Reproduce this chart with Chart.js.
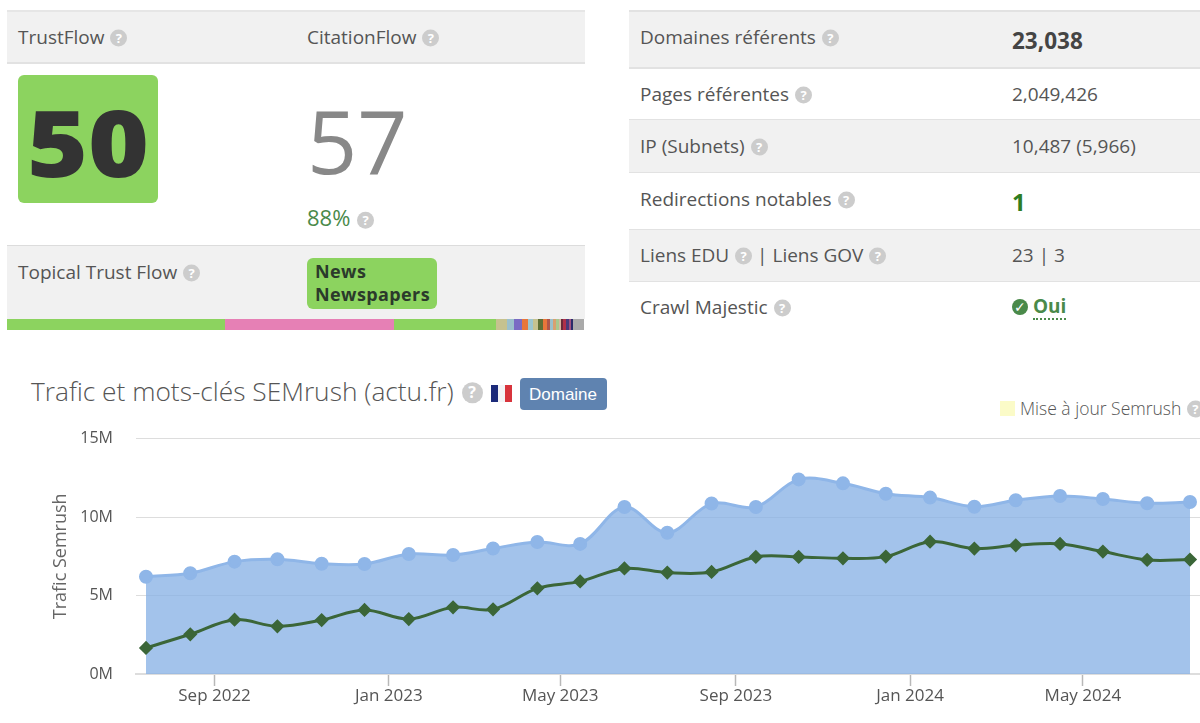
<!DOCTYPE html>
<html lang="fr">
<head>
<meta charset="utf-8">
<title>Trafic et mots-clés SEMrush</title>
<script src="https://cdn.jsdelivr.net/npm/chart.js@4"></script>
<style>
  html, body { margin: 0; padding: 0; background: #fff; }
  body { position: relative; width: 1200px; height: 723px; overflow: hidden; font-family: "Open Sans", sans-serif; color: #555; }
  .box { position: absolute; }
  .t { position: absolute; transform: translateY(-50%); white-space: nowrap; font-size: 19px; line-height: 1.2; margin-top: -0.5px; }
  .q { display: inline-block; width: 17px; height: 17px; line-height: 17px; border-radius: 50%; background: #ccc; color: #fff; font-size: 13px; font-weight: 700; text-align: center; vertical-align: 1px; margin-left: 1px; }
  #chartWrap { position: absolute; left: 0; top: 406px; width: 1200px; height: 317px; }
</style>
</head>
<body>
<div id="page"></div>
<div id="chartWrap"><canvas id="trafficChart"></canvas></div>
<script>
// chart data, one point per month
const months = ['2022-07-15', '2022-08-15', '2022-09-15', '2022-10-15', '2022-11-15', '2022-12-15', '2023-01-15', '2023-02-15', '2023-03-15', '2023-04-15', '2023-05-15', '2023-06-15', '2023-07-15', '2023-08-15', '2023-09-15', '2023-10-15', '2023-11-15', '2023-12-15', '2024-01-15', '2024-02-15', '2024-03-15', '2024-04-15', '2024-05-15', '2024-06-15', '2024-07-15'];
const traffic = [6.2, 6.42, 7.16, 7.31, 7.03, 7.01, 7.65, 7.58, 8.0, 8.41, 8.29, 10.64, 9.0, 10.86, 10.64, 12.4, 12.15, 11.49, 11.24, 10.66, 11.07, 11.34, 11.15, 10.88, 10.96];
const keywords = [1.66, 2.53, 3.46, 3.04, 3.44, 4.08, 3.5, 4.25, 4.12, 5.46, 5.9, 6.73, 6.46, 6.5, 7.46, 7.46, 7.37, 7.48, 8.43, 7.99, 8.2, 8.29, 7.8, 7.27, 7.29];
const xTickDates = ['2022-09-01', '2023-01-01', '2023-05-01', '2023-09-01', '2024-01-01', '2024-05-01'];
const xTickLabels = ['Sep 2022', 'Jan 2023', 'May 2023', 'Sep 2023', 'Jan 2024', 'May 2024'];
const yTicks = [0, 5, 10, 15];

// page furniture around the chart
const page = document.getElementById('page');
const help = '<span class="q">?</span>';

function rect(x, y, w, h, bg, radius) {
    const d = document.createElement('div');
    d.className = 'box';
    d.style.cssText = `left:${x}px;top:${y}px;width:${w}px;height:${h}px;background:${bg};border-radius:${radius || 0}px`;
    page.appendChild(d);
}

function text(x, y, html, css) {
    const d = document.createElement('div');
    d.className = 't';
    d.style.cssText = `left:${x}px;top:${y}px;${css || ''}`;
    d.innerHTML = html;
    page.appendChild(d);
}

// left panel
rect(7, 11, 578, 52, '#f1f1f1');
rect(7, 10, 578, 2, '#e6e6e6');
rect(7, 62, 578, 2, '#e2e2e2');
rect(7, 245, 578, 74, '#f1f1f1');
rect(7, 245, 578, 1, '#dcdcdc');
text(18, 37, 'TrustFlow ' + help);
text(307, 37, 'CitationFlow ' + help);
rect(18, 75, 140, 128, '#8cd35f', 6);
text(27, 142, '50', 'font-size:93px;font-weight:800;color:#333;transform:translateY(-50%) scaleX(1.12);transform-origin:left center');
text(307, 141, '57', 'font-size:88px;font-weight:400;color:#888');
text(307, 217, '88% ' + help, 'font-size:22px;color:#4a8a4a');
text(18, 272, 'Topical Trust Flow ' + help);
rect(307, 258, 130, 51, '#8cd35f', 6);
text(315, 272, 'News', 'font-size:18px;font-weight:700;letter-spacing:.4px;color:#2b3a2b');
text(315, 295, 'Newspapers', 'font-size:18px;font-weight:700;letter-spacing:.4px;color:#2b3a2b');

// topical stripe
const stripeEdges = [7, 225, 394, 496, 507, 514, 522, 528, 533, 538, 543, 547, 550, 553, 556, 559, 561, 563, 566, 569, 571, 573, 584];
const stripeColors = ['#8cd35f', '#e680b5', '#8cd35f', '#c6c28f', '#9cc0cc', '#7a6bc4', '#e8763a', '#9cc6d0', '#c6c28f', '#5f6f35', '#e8763a', '#b0554a', '#9cc0cc', '#d9a070', '#a8c890', '#d8b8a0', '#6a2a3a', '#b0304a', '#4a3a7a', '#a05080', '#2a2a6a', '#aaaaaa'];
stripeColors.forEach((c, i) => rect(stripeEdges[i], 319, stripeEdges[i + 1] - stripeEdges[i], 11, c));

// right panel
rect(629, 11, 571, 57, '#f1f1f1');
rect(629, 120, 571, 52, '#f1f1f1');
rect(629, 229, 571, 52, '#f1f1f1');
[10, 67, 119, 172, 229, 281].forEach((y, i) => rect(629, y, 571, i < 2 ? 2 : 1, '#e2e2e2'));
text(640, 37, 'Domaines référents ' + help);
text(640, 94, 'Pages référentes ' + help);
text(640, 146, 'IP (Subnets) ' + help);
text(640, 199, 'Redirections notables ' + help);
text(640, 255, 'Liens EDU ' + help + ' | Liens GOV ' + help);
text(640, 307, 'Crawl Majestic ' + help);
text(1012, 40, '23,038', 'font-size:22.5px;font-weight:700;color:#444');
text(1012, 94, '2,049,426');
text(1012, 146, '10,487 (5,966)');
text(1012, 202, '1', 'font-size:24px;font-weight:700;color:#2e7d22');
text(1012, 255, '23 | 3');
rect(1012, 299, 16, 16, '#4a8a4a', 8);
text(1014, 307, '✓', 'font-size:14px;font-weight:700;color:#fff;font-family:DejaVu Sans');
text(1033, 307, 'Oui', 'font-weight:700;color:#4a8a4a;border-bottom:2px dotted #4a8a4a;line-height:24px');

// chart heading
text(31, 392, 'Trafic et mots-clés SEMrush (actu.fr) <span class="q" style="width:21px;height:21px;line-height:21px;font-size:16px;vertical-align:3px">?</span>', 'font-size:26.3px;font-weight:300;color:#555');
rect(491, 385, 7, 17, '#1c2a7a');
rect(498, 385, 7, 17, '#f4f4f6');
rect(505, 385, 7, 17, '#d8343c');
rect(520, 378, 87, 32, '#5f83b0', 4);
text(529, 395, 'Domaine', 'font-family:Liberation Sans;font-size:17px;color:#fff');
rect(1000, 401, 15, 15, '#fbfbc8');
text(1020, 408, 'Mise à jour Semrush ' + help, 'font-size:17.5px;font-weight:300;color:#555');

// chart
const dayMs = 86400000;
const xValues = months.map(m => Date.parse(m));

function toPoints(values) {
    return values.map((v, i) => ({ x: xValues[i], y: v }));
}

new Chart(document.getElementById('trafficChart'), {
    type: 'line',
    data: {
        datasets: [
            {
                label: 'Mots-clés',
                data: toPoints(keywords),
                order: 1,
                borderColor: '#3b6638',
                backgroundColor: '#3b6638',
                borderWidth: 3,
                tension: 0.35,
                pointStyle: 'rectRot',
                pointRadius: 5,
                fill: false
            },
            {
                label: 'Trafic',
                data: toPoints(traffic),
                order: 2,
                borderColor: '#8fb6e8',
                pointBackgroundColor: '#8fb6e8',
                pointBorderColor: '#8fb6e8',
                backgroundColor: 'rgba(132, 175, 228, 0.75)',
                borderWidth: 3,
                tension: 0.35,
                pointRadius: 5.5,
                fill: 'origin'
            }
        ]
    },
    options: {
        responsive: true,
        maintainAspectRatio: false,
        animation: false,
        layout: { autoPadding: false, padding: { top: 13 } },
        plugins: { legend: { display: false }, tooltip: { enabled: false } },
        scales: {
            x: {
                type: 'linear',
                min: xValues[0] - 7 * dayMs,
                max: xValues[xValues.length - 1] + 7 * dayMs,
                afterFit: scale => { scale.height = 49; },
                afterBuildTicks: scale => {
                    scale.ticks = xTickDates.map(d => ({ value: Date.parse(d) }));
                },
                border: { display: true, color: '#ddd', width: 2 },
                grid: { drawOnChartArea: false, drawTicks: true, tickLength: 12, tickColor: '#b8b8b8', tickWidth: 1.5, color: '#ddd' },
                ticks: {
                    autoSkip: false,
                    maxRotation: 0,
                    padding: 0,
                    color: '#555',
                    font: { family: 'Open Sans', size: 17 },
                    callback: value => xTickLabels[xTickDates.findIndex(d => Date.parse(d) === value)]
                }
            },
            y: {
                min: 0,
                max: 15,
                afterFit: scale => { scale.width = 136; },
                afterBuildTicks: scale => {
                    scale.ticks = yTicks.map(v => ({ value: v }));
                },
                border: { display: false },
                grid: { color: '#ddd', drawTicks: false },
                title: {
                    display: true,
                    text: 'Trafic Semrush',
                    color: '#666',
                    font: { family: 'Open Sans', size: 18 },
                    padding: { top: 50, bottom: 0 }
                },
                ticks: {
                    padding: 23,
                    color: '#555',
                    font: { family: 'Open Sans', size: 16 },
                    callback: value => value + 'M'
                }
            }
        }
    }
});
</script>
</body>
</html>
